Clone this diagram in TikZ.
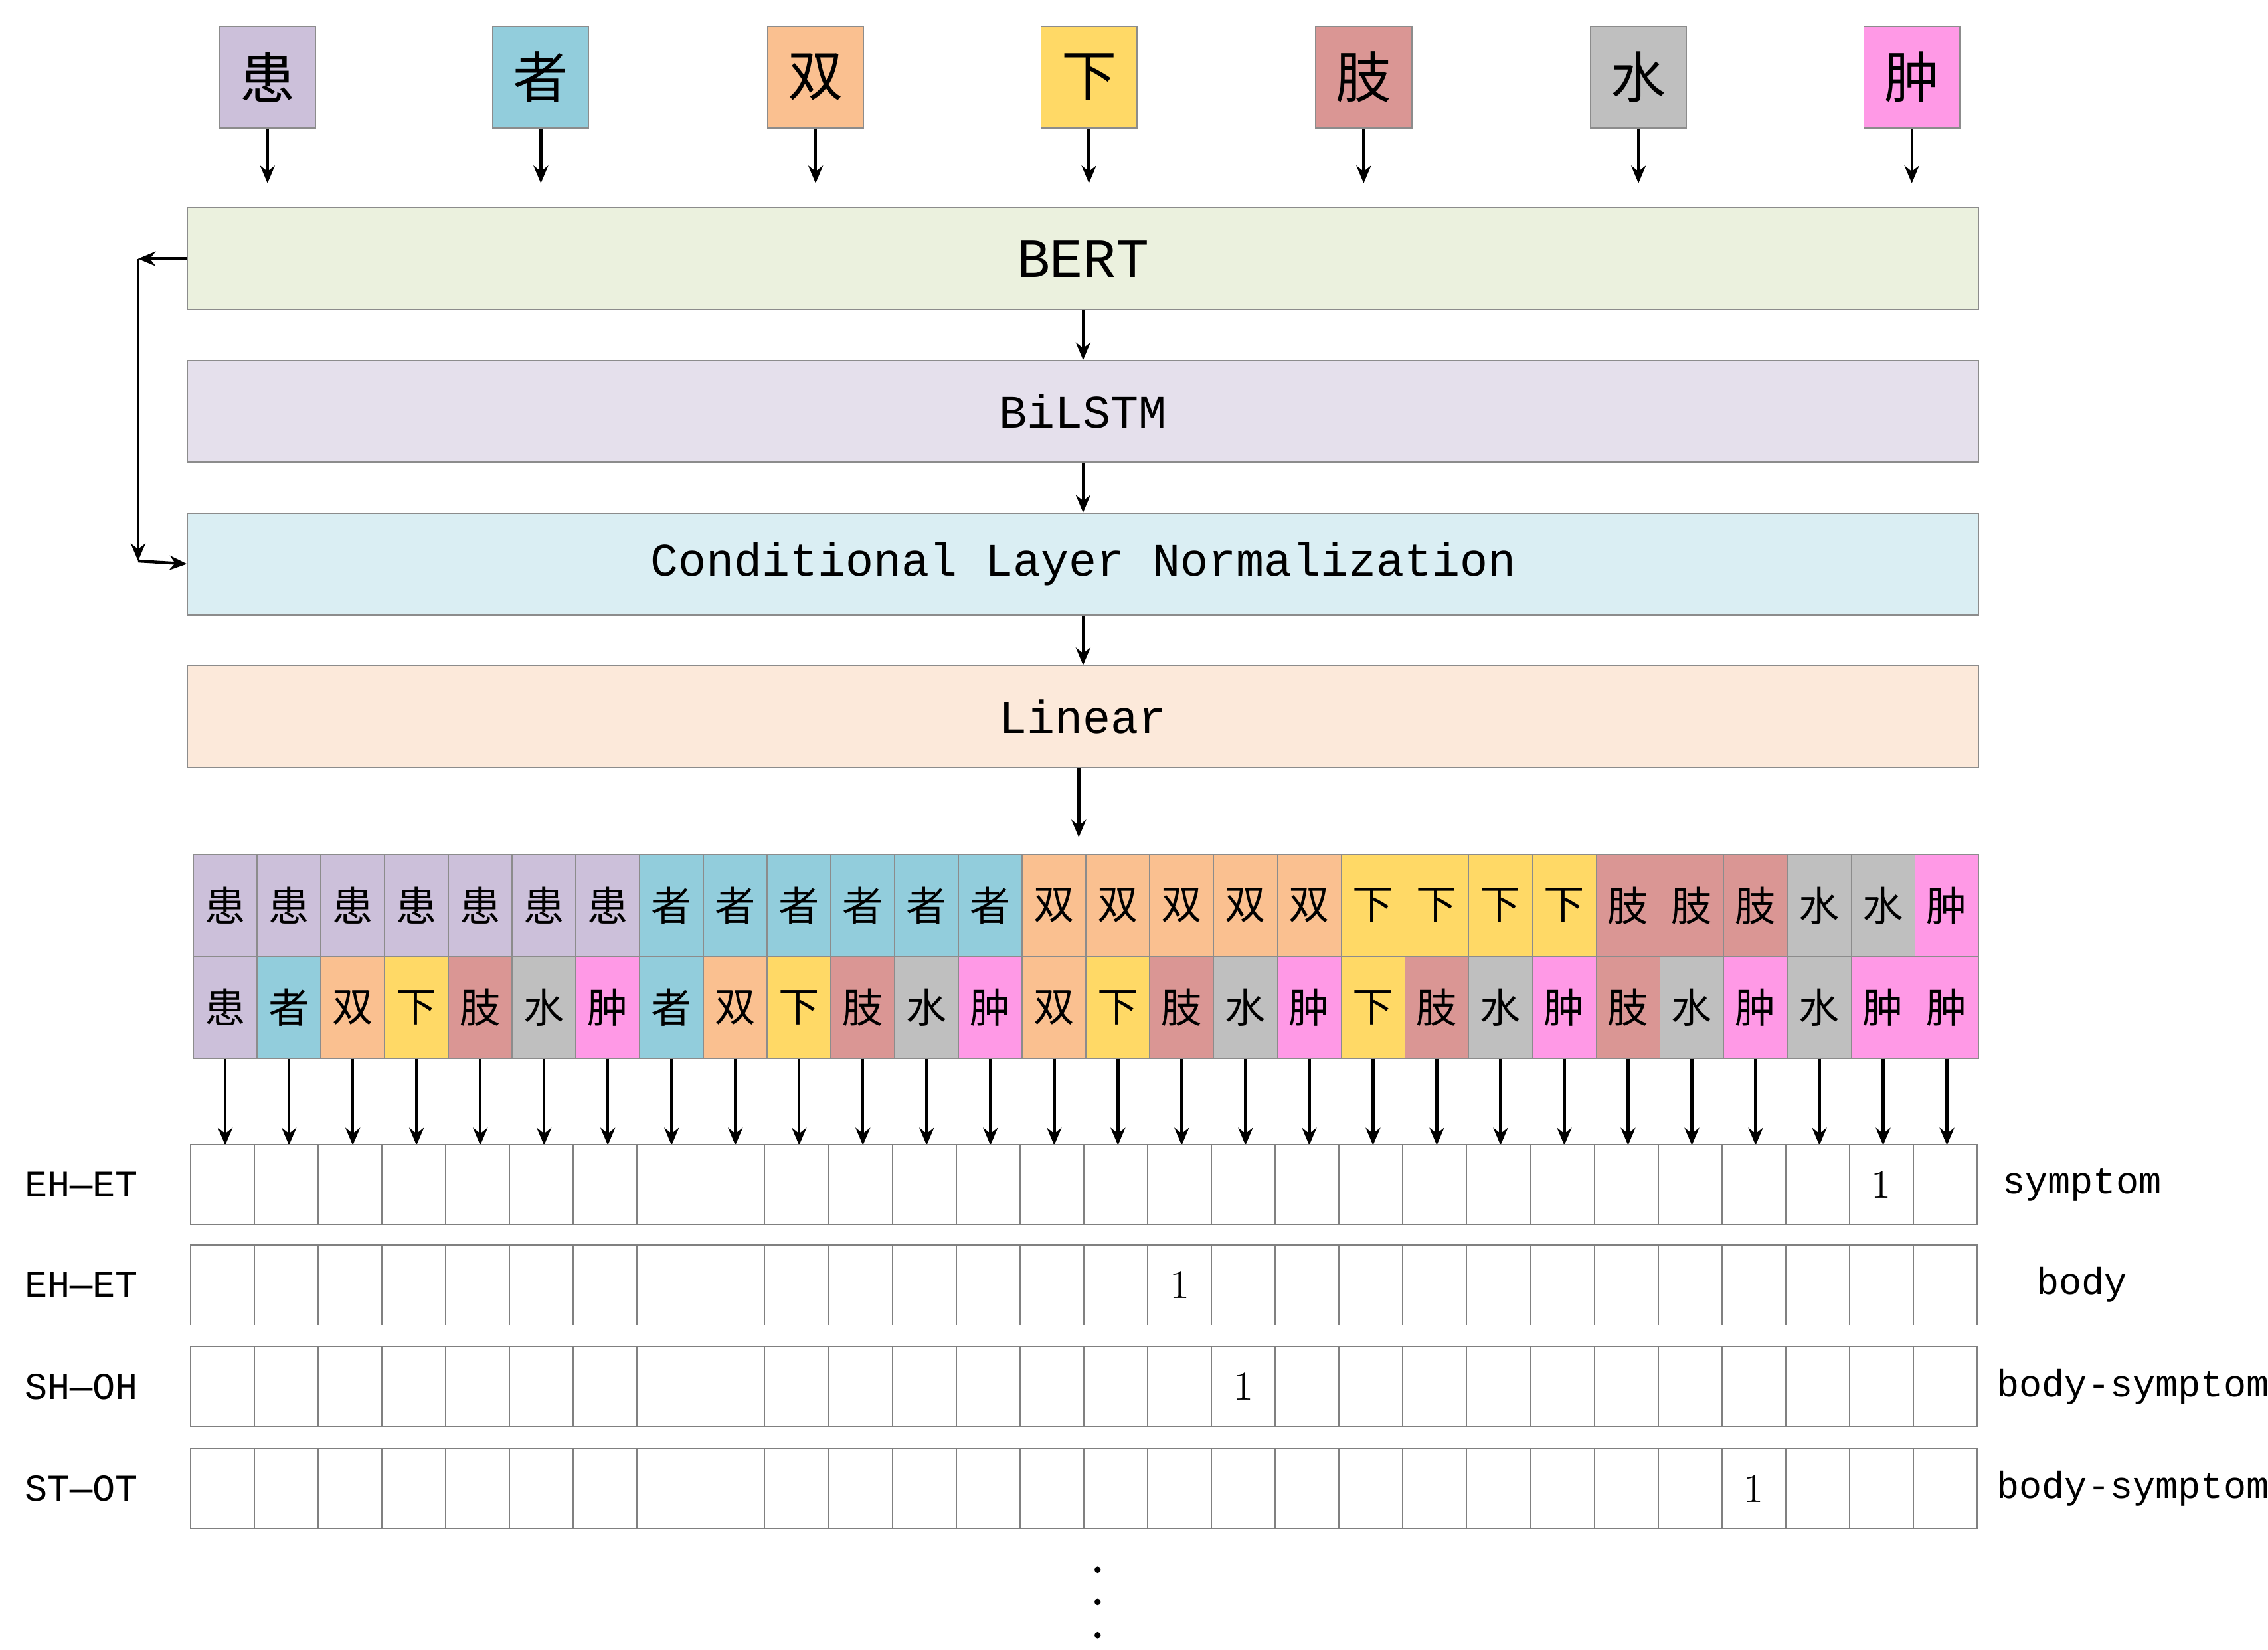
\documentclass[tikz,border=0pt]{standalone}
\usepackage{fontspec}
\setmonofont{Liberation Mono}
\newfontfamily\cjk{Noto Sans CJK SC}
\usetikzlibrary{arrows.meta}
\definecolor{c1}{HTML}{CCC0DA}
\definecolor{c2}{HTML}{92CDDC}
\definecolor{c3}{HTML}{FAC090}
\definecolor{c4}{HTML}{FFD966}
\definecolor{c5}{HTML}{DA9694}
\definecolor{c6}{HTML}{BFBFBF}
\definecolor{c7}{HTML}{FF99E6}
\newcommand\zch[1]{\ifcase#1\or 患\or 者\or 双\or 下\or 肢\or 水\or 肿\fi}
\tikzset{
 arr/.style={-{Stealth[length=6pt,width=5pt]},line width=1pt},
 layer/.style={draw=black!45,minimum width=616pt,minimum height=35pt,inner sep=0pt,font=\ttfamily\fontsize{16}{18}\selectfont},
 tok/.style={draw=black!45,minimum width=33pt,minimum height=35pt,inner sep=0pt,font=\cjk\fontsize{19}{20}\selectfont},
 cell/.style={draw=black!45,minimum width=21.93pt,minimum height=35pt,inner sep=0pt,font=\cjk\fontsize{14}{15}\selectfont},
 gcell/.style={draw=black!50,minimum width=21.93pt,minimum height=27.5pt,inner sep=0pt,font=\rmfamily\fontsize{14}{15}\selectfont},
 lab/.style={font=\ttfamily\fontsize{13}{14}\selectfont}
}
\begin{document}
\begin{tikzpicture}[x=0.5pt,y=-0.5pt]
\useasboundingbox (0,0) rectangle (1560,1135);
% top tokens
\foreach \i/\x in {1/184,2/372,3/561,4/749,5/938,6/1127,7/1315}{
 \node[tok,fill=c\i] (t\i) at (\x,53) {\zch{\i}};
 \coordinate (ta\i) at (\x,126);
 \draw[arr] (t\i.south) -- (ta\i);
}
\node[layer,fill=green!8!white,fill=c1!0,fill={rgb,255:red,235;green,241;blue,222},font=\ttfamily\fontsize{19}{20}\selectfont] (bert) at (745,178) {BERT};
\node[layer,fill={rgb,255:red,229;green,224;blue,236}] (lstm) at (745,283) {BiLSTM};
\node[layer,fill={rgb,255:red,218;green,238;blue,243}] (cln) at (745,388) {Conditional Layer Normalization};
\node[layer,fill={rgb,255:red,252;green,233;blue,218}] (lin) at (745,493) {Linear};
\draw[arr] (bert) -- (lstm);
\draw[arr] (lstm) -- (cln);
\draw[arr] (cln) -- (lin);
\coordinate (lb1) at (95,178);
\coordinate (lb2) at (95,386);
\draw[arr] (bert.west) -- (lb1);
\draw[arr] (lb1) -- (lb2);
\draw[arr] (lb2) -- (cln.west);
\coordinate (gtop) at (742,576);
\draw[arr] (lin.south -| gtop) -- (gtop);
% token pair grid
\foreach \i in {1,...,7}{
 \foreach \j in {\i,...,7}{
  \pgfmathtruncatemacro{\k}{(\i-1)*(16-\i)/2+\j-\i+1}
  \pgfmathsetmacro{\cx}{133+43.86*(\k-0.5)}
  \node[cell,fill=c\i] (p\k) at (\cx,623) {\zch{\i}};
  \node[cell,fill=c\j] (q\k) at (\cx,693) {\zch{\j}};
  \coordinate (qa\k) at (\cx,788);
  \draw[arr] (q\k.south) -- (qa\k);
 }
}
% label rows
\foreach \r/\y/\l/\rl/\rx/\one in {1/815/EH—ET/symptom/1432/27,2/884/EH—ET/body/1432/16,3/954/SH—OH/body-symptom/1467/17,4/1024/ST—OT/body-symptom/1467/25}{
 \foreach \k in {1,...,28}{
  \pgfmathsetmacro{\cx}{131+43.89*(\k-0.5)}
  \ifnum\k=\one
   \node[gcell] (g\r-\k) at (\cx,\y) {1};
  \else
   \node[gcell] (g\r-\k) at (\cx,\y) {};
  \fi
 }
 \node[lab] (ll\r) at (56,\y) {\l};
 \node[lab] (rl\r) at (\rx,\y) {\rl};
}
\foreach \yy [count=\n] in {1080,1102,1125} \fill (755,\yy) circle (2.2);
\end{tikzpicture}
\end{document}
